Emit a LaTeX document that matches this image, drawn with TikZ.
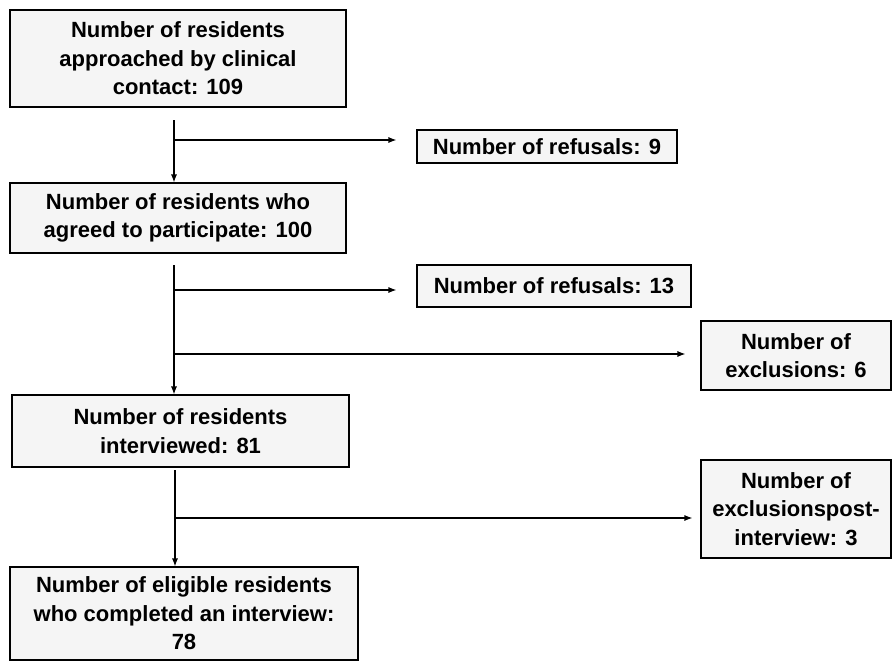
\documentclass[tikz,border=0pt]{standalone}
\usepackage{fontspec}
\setmainfont{Liberation Sans}
\usetikzlibrary{arrows.meta}
\begin{document}
\begin{tikzpicture}[x=1pt,y=-1pt,
  box/.style={draw=black,line width=1.1pt,fill=gray!8,rectangle,inner sep=0pt,
    align=center,font=\fontsize{22}{28.5}\selectfont\bfseries},
  arr/.style={line width=1.1pt,-{Latex[length=8pt,width=6pt]}},
  ln/.style={line width=1.1pt}]
\useasboundingbox (0,0) rectangle (894,662);
\node[box,minimum width=336pt,minimum height=97pt] (b1) at (178,58.5)
  {Number of residents\\approached by clinical\\contact: 109};
\node[box,minimum width=336pt,minimum height=70pt] (b2) at (178,218)
  {Number of residents who\\agreed to participate: 100};
\node[box,minimum width=337pt,minimum height=72pt] (b3) at (180.5,431)
  {Number of residents\\interviewed: 81};
\node[box,minimum width=348pt,minimum height=93pt] (b4) at (184,613.5)
  {Number of eligible residents\\who completed an interview:\\78};
\node[box,minimum width=260pt,minimum height=33pt] (r9) at (547,146.5)
  {Number of refusals: 9};
\node[box,minimum width=274pt,minimum height=42pt] (r13) at (554,286)
  {Number of refusals: 13};
\node[box,minimum width=190pt,minimum height=69pt] (e6) at (796,355.5)
  {Number of\\exclusions: 6};
\node[box,minimum width=190pt,minimum height=98pt] (e3) at (796,509)
  {Number of\\exclusionspost-\\interview: 3};
% trunk 1
\coordinate (t1) at (174,120);
\coordinate (j1) at (174,140);
\draw[arr] (t1) -- (t1 |- b2.north);
\draw[arr,shorten >=20pt] (j1) -- (r9.west |- j1);
% trunk 2
\coordinate (t2) at (174,265);
\coordinate (j2) at (174,290);
\coordinate (j3) at (174,354);
\draw[arr] (t2) -- (t2 |- b3.north);
\draw[arr,shorten >=20pt] (j2) -- (r13.west |- j2);
\draw[arr,shorten >=15pt] (j3) -- (e6.west |- j3);
% trunk 3
\coordinate (t3) at (175,470);
\coordinate (j4) at (175,518);
\draw[arr] (t3) -- (t3 |- b4.north);
\draw[arr,shorten >=8pt] (j4) -- (e3.west |- j4);
\end{tikzpicture}
\end{document}
